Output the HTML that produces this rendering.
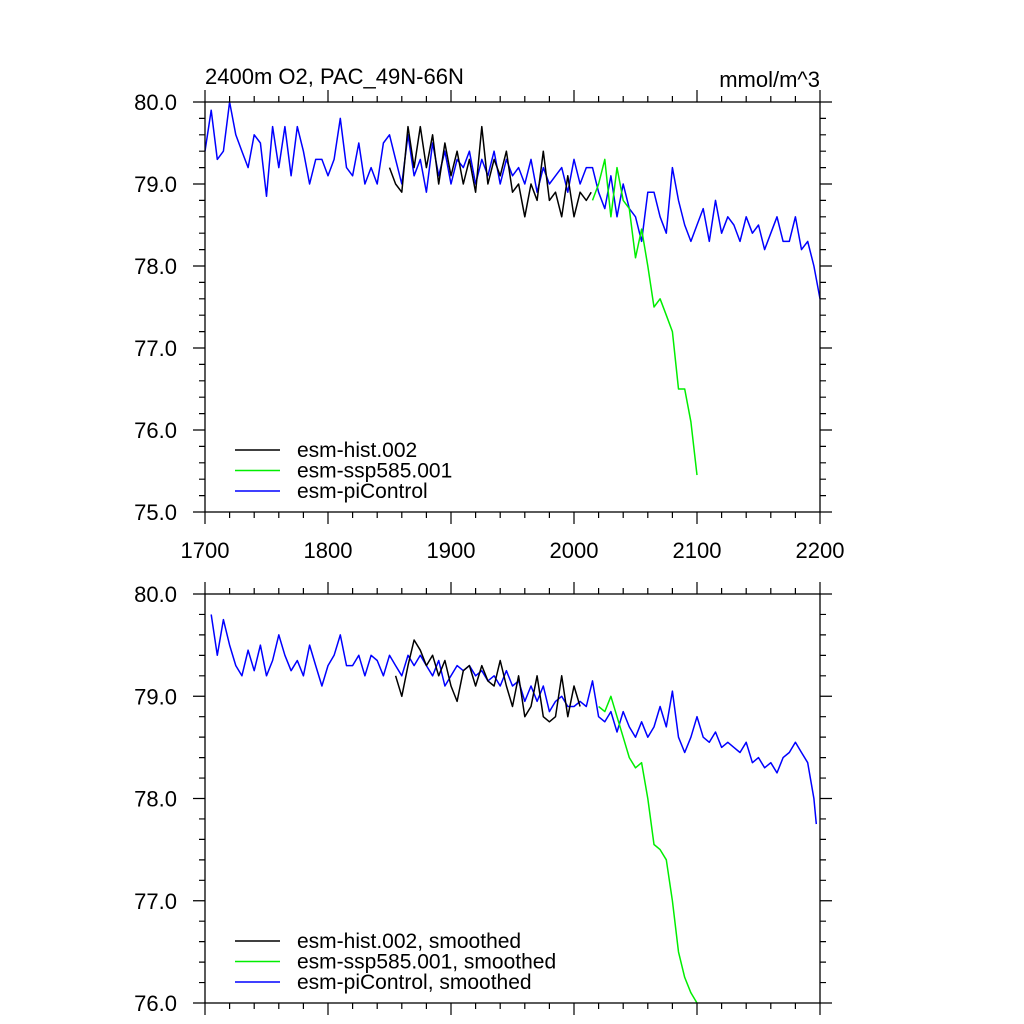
<!DOCTYPE html>
<html><head><meta charset="utf-8"><style>
html,body{margin:0;padding:0;background:#fff;}
svg{display:block;font-family:"Liberation Sans",sans-serif;}
</style></head><body>
<svg id="chart" width="1024" height="1024" viewBox="0 0 1024 1024" xmlns="http://www.w3.org/2000/svg"></svg>
<script>
const xTicks=[1700,1800,1900,2000,2100,2200];
const topYTicks=[75,76,77,78,79,80];
const botYTicks=[76,77,78,79,80];
const piYears=[1700,1705,1710,1715,1720,1725,1730,1735,1740,1745,1750,1755,1760,1765,1770,1775,1780,1785,1790,1795,1800,1805,1810,1815,1820,1825,1830,1835,1840,1845,1850,1855,1860,1865,1870,1875,1880,1885,1890,1895,1900,1905,1910,1915,1920,1925,1930,1935,1940,1945,1950,1955,1960,1965,1970,1975,1980,1985,1990,1995,2000,2005,2010,2015,2020,2025,2030,2035,2040,2045,2050,2055,2060,2065,2070,2075,2080,2085,2090,2095,2100,2105,2110,2115,2120,2125,2130,2135,2140,2145,2150,2155,2160,2165,2170,2175,2180,2185,2190,2195,2200];
const piVals=[79.4,79.9,79.3,79.4,80.0,79.6,79.4,79.2,79.6,79.5,78.85,79.7,79.2,79.7,79.1,79.7,79.4,79.0,79.3,79.3,79.1,79.3,79.8,79.2,79.1,79.5,79.0,79.2,79.0,79.5,79.6,79.3,79.0,79.6,79.1,79.3,78.9,79.5,79.1,79.4,79.0,79.3,79.2,79.4,79.0,79.3,79.1,79.4,79.0,79.3,79.1,79.2,79.0,79.3,78.9,79.2,79.0,79.1,79.2,78.9,79.3,79.0,79.2,79.2,78.9,78.7,79.1,78.6,79.0,78.7,78.6,78.3,78.9,78.9,78.6,78.4,79.2,78.8,78.5,78.3,78.5,78.7,78.3,78.8,78.4,78.6,78.5,78.3,78.6,78.4,78.5,78.2,78.4,78.6,78.3,78.3,78.6,78.2,78.3,78.0,77.6];
const histYears=[1850,1855,1860,1865,1870,1875,1880,1885,1890,1895,1900,1905,1910,1915,1920,1925,1930,1935,1940,1945,1950,1955,1960,1965,1970,1975,1980,1985,1990,1995,2000,2005,2010,2014];
const histVals=[79.2,79.0,78.9,79.7,79.2,79.7,79.2,79.6,79.0,79.5,79.1,79.4,79.0,79.3,78.9,79.7,79.0,79.3,79.1,79.4,78.9,79.0,78.6,79.0,78.8,79.4,78.8,78.9,78.6,79.1,78.6,78.9,78.8,78.9];
const sspYears=[2015,2020,2025,2030,2035,2040,2045,2050,2055,2060,2065,2070,2075,2080,2085,2090,2095,2100];
const sspVals=[78.8,79.0,79.3,78.6,79.2,78.8,78.7,78.1,78.45,78.0,77.5,77.6,77.4,77.2,76.5,76.5,76.1,75.45];
const piSmYears=[1705,1710,1715,1720,1725,1730,1735,1740,1745,1750,1755,1760,1765,1770,1775,1780,1785,1790,1795,1800,1805,1810,1815,1820,1825,1830,1835,1840,1845,1850,1855,1860,1865,1870,1875,1880,1885,1890,1895,1900,1905,1910,1915,1920,1925,1930,1935,1940,1945,1950,1955,1960,1965,1970,1975,1980,1985,1990,1995,2000,2005,2010,2015,2020,2025,2030,2035,2040,2045,2050,2055,2060,2065,2070,2075,2080,2085,2090,2095,2100,2105,2110,2115,2120,2125,2130,2135,2140,2145,2150,2155,2160,2165,2170,2175,2180,2185,2190,2195,2197];
const piSmVals=[79.8,79.4,79.75,79.5,79.3,79.2,79.45,79.25,79.5,79.2,79.35,79.6,79.4,79.25,79.35,79.2,79.5,79.3,79.1,79.3,79.4,79.6,79.3,79.3,79.4,79.2,79.4,79.35,79.2,79.4,79.3,79.2,79.4,79.3,79.4,79.3,79.2,79.35,79.1,79.2,79.3,79.25,79.3,79.2,79.25,79.15,79.2,79.1,79.25,79.1,79.15,78.95,79.1,78.95,79.1,78.85,78.95,79.0,78.9,78.9,78.95,78.9,79.15,78.8,78.75,78.85,78.65,78.85,78.7,78.6,78.75,78.6,78.7,78.9,78.7,79.05,78.6,78.45,78.6,78.8,78.6,78.55,78.65,78.5,78.55,78.5,78.45,78.55,78.35,78.4,78.3,78.35,78.25,78.4,78.45,78.55,78.45,78.35,78.0,77.75];
const histSmYears=[1855,1860,1865,1870,1875,1880,1885,1890,1895,1900,1905,1910,1915,1920,1925,1930,1935,1940,1945,1950,1955,1960,1965,1970,1975,1980,1985,1990,1995,2000,2005];
const histSmVals=[79.2,79.0,79.3,79.55,79.45,79.3,79.4,79.2,79.35,79.1,78.95,79.25,79.3,79.1,79.3,79.15,79.1,79.35,79.1,78.9,79.2,78.8,78.9,79.2,78.8,78.75,78.8,79.2,78.8,79.1,78.9];
const sspSmYears=[2020,2025,2030,2035,2040,2045,2050,2055,2060,2065,2070,2075,2080,2085,2090,2095,2100];
const sspSmVals=[78.9,78.85,79.0,78.8,78.6,78.4,78.3,78.35,78.0,77.55,77.5,77.4,77.0,76.5,76.25,76.1,76.0];

const NS='http://www.w3.org/2000/svg';
const svg=document.getElementById('chart');
const X0=205,X1=820;
const xs=v=>X0+(v-1700)/500*(X1-X0);
function el(tag,attrs,parent){const e=document.createElementNS(NS,tag);for(const k in attrs)e.setAttribute(k,attrs[k]);(parent||svg).appendChild(e);return e;}

function panel(id,yTop,yBot,vmin,vmax,yTicks,showXLabels,series,legend,legY){
  const ys=v=>yBot-(v-vmin)/(vmax-vmin)*(yBot-yTop);
  const g=el('g',{});
  
  
  series.forEach(s=>{
    const d=s.years.map((yr,i)=>(i?'L':'M')+xs(yr).toFixed(1)+','+ys(s.vals[i]).toFixed(1)).join('');
    const p=el('path',{d:d,fill:'none',stroke:s.color,'stroke-width':1.5,'stroke-linejoin':'round'},g);
    
    
  });
  const fr=el('rect',{x:X0,y:yTop,width:X1-X0,height:yBot-yTop,fill:'none',stroke:'#000','stroke-width':1.3},g);
  
  
  let t='';
  for(let yr=1700;yr<=2200;yr+=20){const x=xs(yr),L=(yr%100===0)?12:6;
    t+=`M${x},${yTop}v${-L}M${x},${yBot}v${L}`;}
  for(let v=vmin;v<=vmax+1e-6;v+=0.2){const y=ys(v),maj=Math.abs(v-Math.round(v))<1e-6,L=maj?12:6;
    t+=`M${X0},${y}h${-L}M${X1},${y}h${L}`;}
  const tk=el('path',{d:t,stroke:'#000','stroke-width':1.2,fill:'none'},g);
  
  
  yTicks.forEach(v=>{
    const tx=el('text',{x:177,y:ys(v)+8,'text-anchor':'end','font-size':22},g);
    tx.textContent=v.toFixed(1);
    
    
  });
  if(showXLabels){xTicks.forEach(v=>{
    const tx=el('text',{x:xs(v),y:yBot+46,'text-anchor':'middle','font-size':22},g);
    tx.textContent=v;
    
    
  });}
  legend.forEach((lg,i)=>{
    const y=legY+i*20.5;
    const ln=el('line',{x1:235,x2:280,y1:y,y2:y,stroke:lg.color,'stroke-width':1.5},g);
    
    
    const tx=el('text',{x:297,y:y+7,'font-size':21},g);
    tx.textContent=lg.label;
    
    
  });
}
panel('top-panel',102,512,75,80,topYTicks,true,[
  {name:'pi-control-line',color:'#0000ff',years:piYears,vals:piVals},
  {name:'hist-line',color:'#000',years:histYears,vals:histVals},
  {name:'ssp585-line',color:'#00ee00',years:sspYears,vals:sspVals}],
  [{color:'#000',label:'esm-hist.002'},{color:'#00ee00',label:'esm-ssp585.001'},{color:'#0000ff',label:'esm-piControl'}],450);
panel('bottom-panel',594,1003,76,80,botYTicks,false,[
  {name:'pi-control-smoothed-line',color:'#0000ff',years:piSmYears,vals:piSmVals},
  {name:'hist-smoothed-line',color:'#000',years:histSmYears,vals:histSmVals},
  {name:'ssp585-smoothed-line',color:'#00ee00',years:sspSmYears,vals:sspSmVals}],
  [{color:'#000',label:'esm-hist.002, smoothed'},{color:'#00ee00',label:'esm-ssp585.001, smoothed'},{color:'#0000ff',label:'esm-piControl, smoothed'}],941);
const t1=el('text',{x:205,y:84,'font-size':22});
t1.textContent='2400m O2, PAC_49N-66N';


const t2=el('text',{x:820,y:87,'font-size':22,'text-anchor':'end'});
t2.textContent='mmol/m^3';


</script>
</body></html>
